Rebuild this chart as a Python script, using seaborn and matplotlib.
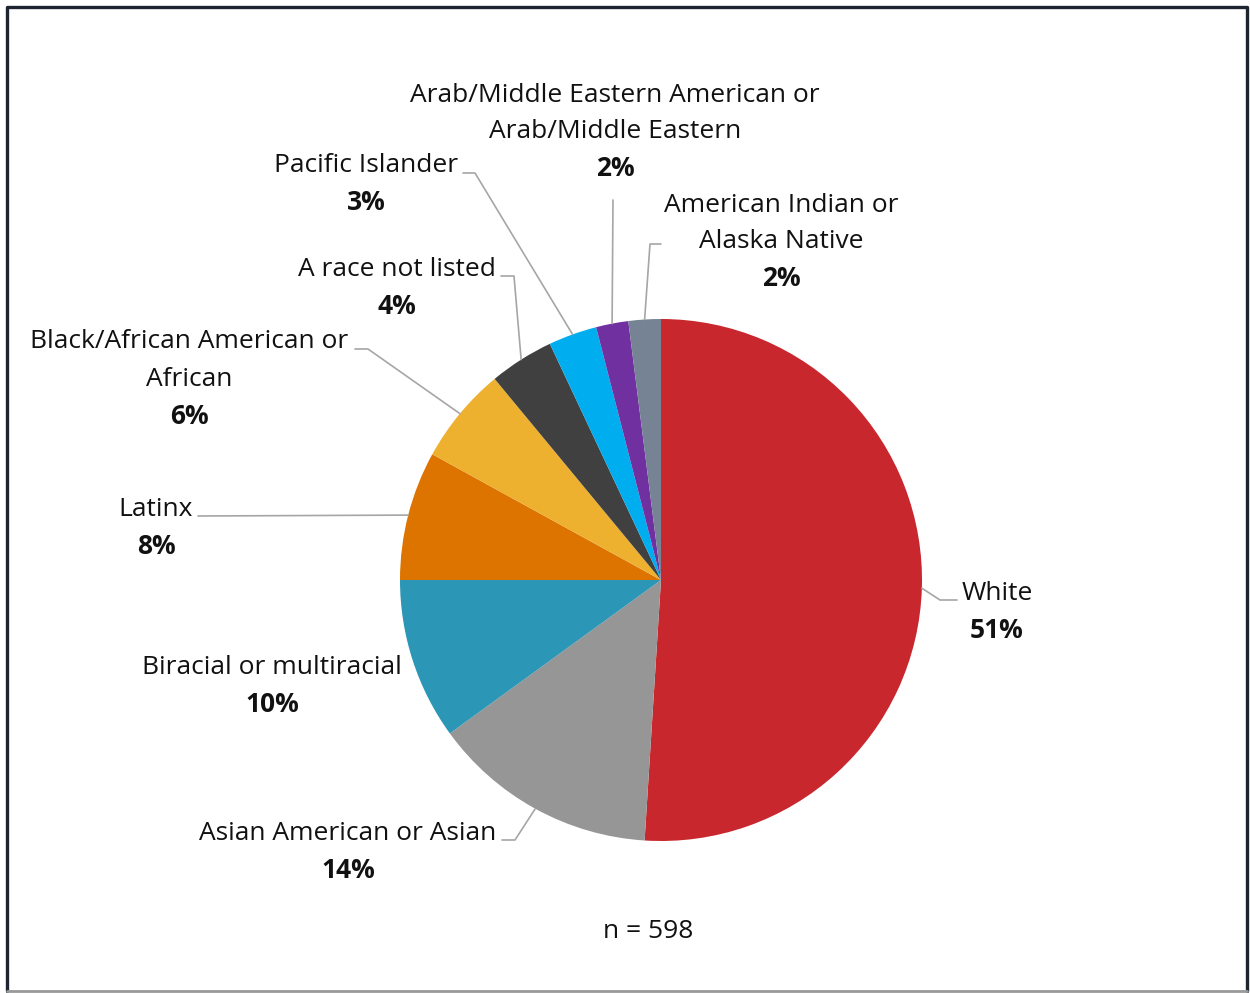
import numpy as np
import seaborn as sns
import matplotlib.pyplot as plt
from matplotlib.lines import Line2D

sns.set_theme(style="white")
plt.rcParams['font.family'] = ['Open Sans', 'DejaVu Sans']

categories = ["White", "Asian American or Asian", "Biracial or multiracial", "Latinx",
              "Black/African American or\nAfrican", "A race not listed", "Pacific Islander",
              "Arab/Middle Eastern American or\nArab/Middle Eastern",
              "American Indian or\nAlaska Native"]
values = [51, 14, 10, 8, 6, 4, 3, 2, 2]
colors = ["#C8272D", "#969696", "#2B96B5", "#DE7400", "#EDB12F",
          "#404040", "#00AEEF", "#7030A0", "#768395"]
n_total = 598

W, H = 1250, 993
cx, cy, R = 661, 580, 261
FS = 19

# label centre (x, y of first line) and leader elbow/end points, in pixels
label_pos = [(997, 593), (348, 833), (272, 668), (156, 509), (189, 342),
             (397, 270), (366, 166), (615, 95), (781, 205)]
elbows = [[(940, 600), (957, 600)], [(515, 840), (502, 840)], None,
          [(198, 516)], [(368, 349), (355, 349)], [(514, 276), (501, 276)],
          [(475, 173), (463, 173)], [(613, 200)], [(650, 244), (661, 244)]]


def Y(py):
    return H - py


fig = plt.figure(figsize=(W / 100, H / 100), dpi=100)
ax = fig.add_axes([0, 0, 1, 1])

wedges, _ = ax.pie(values, colors=colors, startangle=90, counterclock=False,
                   center=(cx, Y(cy)), radius=R, wedgeprops=dict(linewidth=0))
ax.set_xlim(0, W)
ax.set_ylim(0, H)
ax.set_aspect('equal')
ax.axis('off')

for w, lab, pos, elb, v in zip(wedges, categories, label_pos, elbows, values):
    if elb is not None:
        ang = np.deg2rad((w.theta1 + w.theta2) / 2)
        xs = [cx + R * np.cos(ang)] + [p[0] for p in elb]
        ys = [Y(cy) + R * np.sin(ang)] + [Y(p[1]) for p in elb]
        ax.plot(xs, ys, color="#A6A6A6", lw=1.2, zorder=1)
    lines = lab.split("\n")
    for i, line in enumerate(lines):
        ax.text(pos[0], Y(pos[1] + 37 * i), line, ha='center', va='center',
                fontsize=FS, color="#111111")
    ax.text(pos[0], Y(pos[1] + 37 * len(lines)), f"{v}%", ha='center', va='center',
            fontsize=FS, fontweight='bold', color="#111111")

ax.text(648, Y(931), f"n = {n_total}", ha='center', va='center',
        fontsize=FS, color="#111111")

# frame
ax.add_line(Line2D([7, 7, 1247, 1247], [Y(991), Y(7), Y(7), Y(991)],
                   color="#1E2530", lw=2.4))
ax.add_line(Line2D([7, 1247], [Y(991), Y(991)], color="#999999", lw=2.0))

fig.savefig("out.png", dpi=100, facecolor="white")
